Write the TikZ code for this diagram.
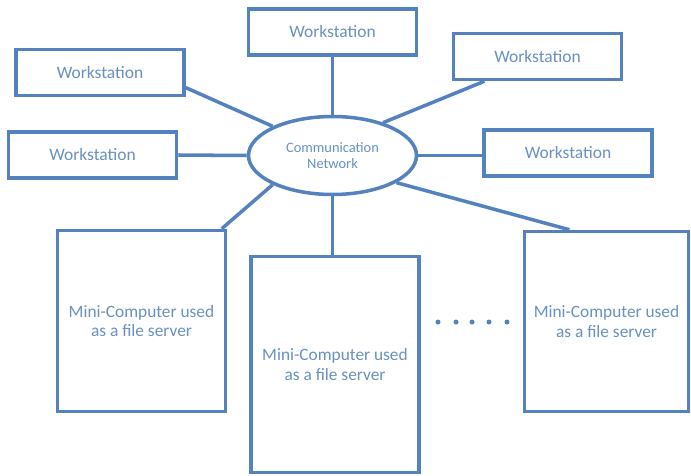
\documentclass[tikz,border=0pt]{standalone}
\usepackage{fontspec}
\setmainfont{Carlito}
\usetikzlibrary{shapes.geometric}

\definecolor{netline}{RGB}{84,130,190}
\definecolor{nettext}{RGB}{104,144,192}

\tikzset{%
  every station/.style={
    rectangle,
    draw=netline,
    line width=3pt,
    text=nettext,
    minimum width=5.04cm,
    minimum height=1.38cm,
    font=\fontsize{14.9}{17}\selectfont
  },
  every server/.style={
    rectangle,
    draw=netline,
    line width=3pt,
    text=nettext,
    align=center,
    minimum width=5.04cm,
    font=\fontsize{14.8}{17}\selectfont
  },
  hub/.style={
    ellipse,
    draw=netline,
    line width=3pt,
    text=nettext,
    align=center,
    inner sep=0pt,
    minimum width=5.04cm,
    minimum height=2.34cm,
    font=\fontsize{12.3}{13.7}\selectfont
  },
  link/.style={
    draw=netline,
    line width=3pt
  },
}

\begin{document}
\begin{tikzpicture}[x=0.03cm,y=-0.03cm]
\useasboundingbox (0,0) rectangle (691,476);

\node [hub] (network) at (332.5,155.5) {Communication\\Network};

\foreach \n/\x/\y in {top/332.5/32, upleft/100/72.5, left/92.5/155,
                      upright/537.5/56.5, right/568/153}
  \node [every station] (ws-\n) at (\x,\y) {Workstation};

\node [every server, minimum height=5.43cm] (server-1) at (141.5,321)
  {Mini-Computer used\\as a file server};
\node [every server, minimum height=6.48cm] (server-2) at (335,364.5)
  {Mini-Computer used\\as a file server};
\node [every server, minimum width=4.92cm, minimum height=5.4cm] (server-3)
  at (606.5,321.5) {Mini-Computer used\\as a file server};

% workstations
\draw [link] (ws-top.south) -- (network.north);
\draw [link] (ws-upleft.-10.7) -- (network.154.7);
\draw [link] (ws-left.east) -- (network.west);
\draw [link] (ws-upright.205.9) -- (network.33.3);
\draw [link] (network.east) -- (network.east -| ws-right.west);

% servers
\draw [link] (network.206.7) -- (server-1.49.5);
\draw [link] (network.south) -- (network.south |- server-2.north);
\draw [link] (network.-23.8) -- (server-3.112.4);

\foreach \x in {438,456,472,489,507}
  \fill [netline] (\x,322) circle (2.5);

\end{tikzpicture}
\end{document}
